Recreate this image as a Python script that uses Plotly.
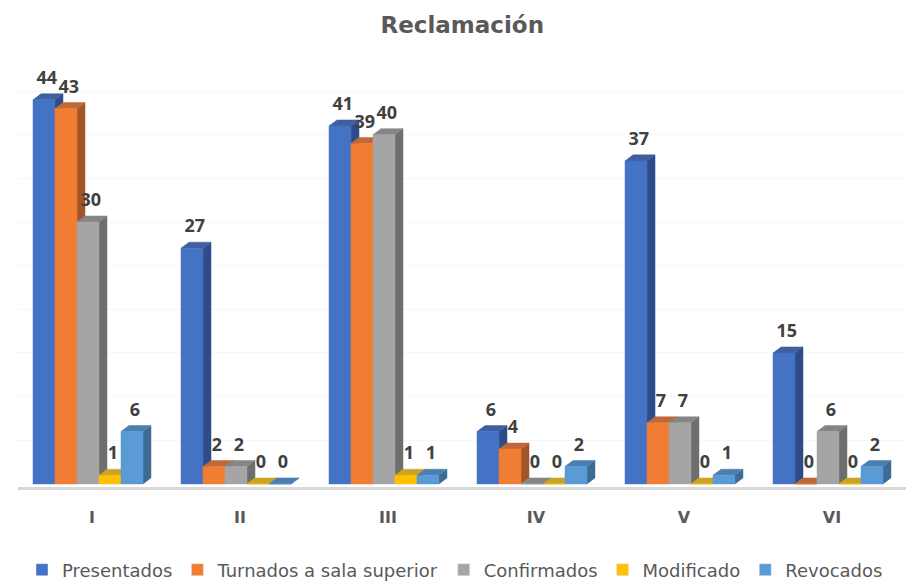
import plotly.graph_objects as go

categories = ["I", "II", "III", "IV", "V", "VI"]
series_names = ["Presentados", "Turnados a sala superior", "Confirmados", "Modificado", "Revocados"]
presentados = [44, 27, 41, 6, 37, 15]
turnados = [43, 2, 39, 4, 7, 0]
confirmados = [30, 2, 40, 0, 7, 6]
modificado = [1, 0, 1, 0, 0, 0]
revocados = [6, 0, 1, 2, 1, 2]
series_values = [presentados, turnados, confirmados, modificado, revocados]

front_colors = ["#4472C4", "#F07D32", "#A5A5A5", "#FFC000", "#5B9BD5"]
side_colors = ["#2E4C8A", "#A3552A", "#6E6E6E", "#B38600", "#3D6B94"]
top_colors = ["#3F5F9F", "#C0683A", "#858585", "#C9A227", "#4A7FAE"]

BAR_W = 0.1486
DX = 0.054
DY = 0.69
GROUP_START = -(len(series_names) * BAR_W + DX) / 2

fig = go.Figure()

for k, (name, vals) in enumerate(zip(series_names, series_values)):
    fx, fy, sx, sy, tx, ty = [], [], [], [], [], []
    lx, ly = [], []
    for i, v in enumerate(vals):
        xl = i + GROUP_START + k * BAR_W
        xr = xl + BAR_W
        sx += [xr, xr + DX, xr + DX, xr, xr, None]
        sy += [0, DY, v + DY, v, 0, None]
        tx += [xl, xr, xr + DX, xl + DX, xl, None]
        ty += [v, v, v + DY, v + DY, v, None]
        fx += [xl, xr, xr, xl, xl, None]
        fy += [0, 0, v, v, 0, None]
        lx.append(xl + BAR_W / 2 + DX * 0.35)
        ly.append(v + DY + 0.6)
    for xs, ys, col in ((sx, sy, side_colors[k]), (tx, ty, top_colors[k]), (fx, fy, front_colors[k])):
        fig.add_trace(go.Scatter(
            x=xs, y=ys, fill="toself", fillcolor=col, mode="lines",
            line=dict(width=0.5, color=col), hoverinfo="skip", showlegend=False))
    fig.add_trace(go.Bar(x=[None], y=[None], name=name, marker_color=front_colors[k]))
    fig.add_trace(go.Scatter(
        x=lx, y=ly, mode="text", text=[str(v) for v in vals],
        textposition="top center",
        textfont=dict(family="Open Sans", size=18, color="#404040", weight="bold"),
        hoverinfo="skip", showlegend=False))

fig.update_layout(
    width=910, height=581,
    margin=dict(l=18, r=4, t=50, b=94, autoexpand=False),
    paper_bgcolor="white", plot_bgcolor="white",
    title=dict(text="Reclamación", x=0.508, xanchor="center", y=1 - 25 / 581, yanchor="middle",
               yref="container",
               font=dict(family="DejaVu Sans", size=23, color="#595959", weight="bold")),
    xaxis=dict(range=[-0.5, 5.5], tickvals=list(range(len(categories))), ticktext=categories,
               showgrid=False, zeroline=False, showline=True, linecolor="#D9D9D9", linewidth=2.5,
               ticks="", ticklabelstandoff=14,
               tickfont=dict(family="DejaVu Sans", size=16, color="#595959", weight="bold")),
    yaxis=dict(range=[-0.35, 49.7], showticklabels=False, showgrid=True, gridcolor="#F6F6F6",
               dtick=5, tick0=0, zeroline=False),
    legend=dict(orientation="h", xref="container", x=0.5, xanchor="center",
                y=1 - 570 / 581, yanchor="middle", yref="container",
                font=dict(family="DejaVu Sans", size=18, color="#595959")),
    showlegend=True,
)

fig.write_html("out.html", config={"displayModeBar": False},
               post_script="document.body.style.margin='0px';")
